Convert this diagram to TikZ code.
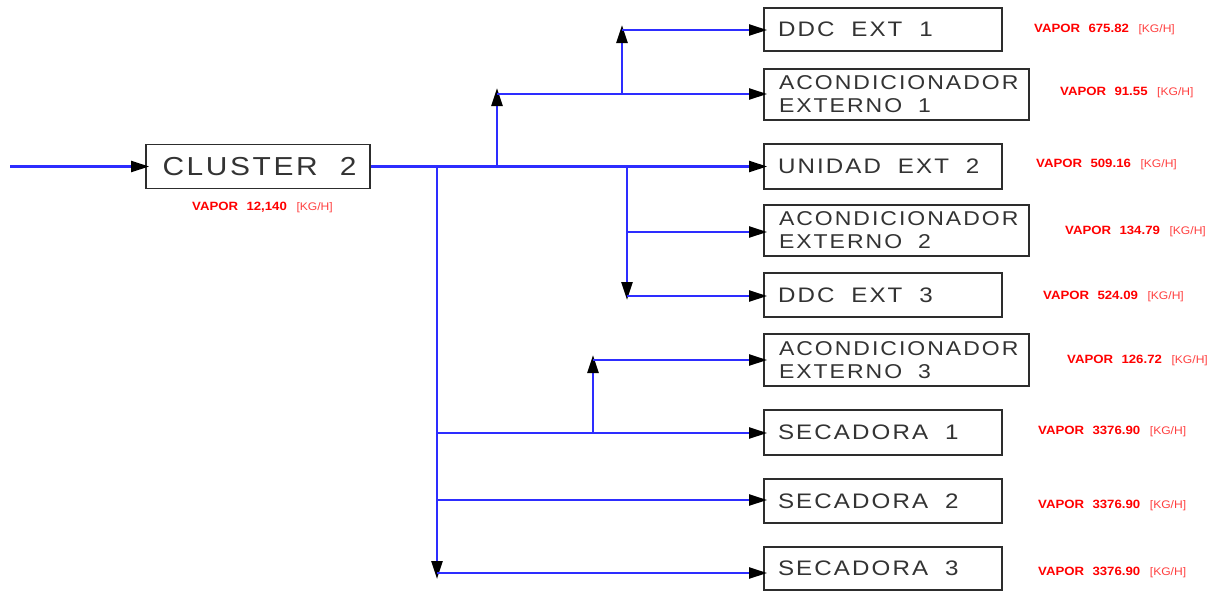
\documentclass[tikz,border=0pt]{standalone}
\usepackage{fontspec}
\setmainfont{Liberation Sans}
\newfontfamily\boxfont[FakeStretch=1.15,LetterSpace=10]{Liberation Sans}
\newfontfamily\redfont[FakeStretch=1.1]{Liberation Sans}
\usetikzlibrary{arrows.meta}
\definecolor{pipe}{RGB}{45,45,255}
\definecolor{boxline}{RGB}{45,45,45}
\newcommand\wsp{\hspace{0.8em}}
\newcommand\rsp{\hspace{0.7em}}
\newcommand\vap[1]{{\bfseries VAPOR\rsp#1}\hspace{0.8em}{\fontsize{11}{12}\selectfont\color{red!75}[KG/H]}}
\begin{document}
\begin{tikzpicture}[x=1pt,y=-1pt,
  box/.style={draw=boxline,line width=1.8pt,rectangle,inner ysep=0pt,inner xsep=14pt,
    text=black!80,align=left,font=\boxfont\fontsize{21}{23}\selectfont},
  box2/.style={box,font=\boxfont\fontsize{20}{23}\selectfont,inner xsep=15pt},
  vlabel/.style={anchor=west,inner sep=0pt,text=red,font=\redfont\fontsize{12}{14}\selectfont},
  flow/.style={draw=pipe,line width=2.3pt},
  arr/.style={-{Triangle[length=18pt,width=11pt,color=black]}}
]
\fill[white] (0,0) rectangle (1219,592);
\useasboundingbox (0,0) rectangle (1219,592);

% boxes
\node[box,minimum height=44pt,minimum width=224pt,inner xsep=0pt,font=\boxfont\fontsize{26}{28}\selectfont] (cl) at (258,166.5) {\hspace{3pt}CLUSTER\hspace{0.85em}2};
\node[box,minimum height=43pt,text width=210pt] (d1) at (883,29.5) {DDC\wsp EXT\wsp 1};
\node[box2,minimum height=51pt,text width=235pt] (a1) at (896.5,94.5) {ACONDICIONADOR\\EXTERNO\wsp 1};
\node[box,minimum height=45pt,text width=210pt] (u2) at (883,166.5) {UNIDAD\wsp EXT\wsp 2};
\node[box2,minimum height=51pt,text width=235pt] (a2) at (896.5,230.5) {ACONDICIONADOR\\EXTERNO\wsp 2};
\node[box,minimum height=44pt,text width=210pt] (d3) at (883,295) {DDC\wsp EXT\wsp 3};
\node[box2,minimum height=52pt,text width=235pt] (a3) at (896.5,360) {ACONDICIONADOR\\EXTERNO\wsp 3};
\node[box,minimum height=45pt,text width=210pt] (s1) at (883,432.5) {SECADORA\wsp 1};
\node[box,minimum height=44pt,text width=210pt] (s2) at (883,501) {SECADORA\wsp 2};
\node[box,minimum height=43pt,text width=210pt] (s3) at (883,568.5) {SECADORA\wsp 3};

% labels
\node[vlabel] (lcl) at (192,207) {\vap{12,140}};
\node[vlabel] (ld1) at (1034,29) {\vap{675.82}};
\node[vlabel] (la1) at (1060,92) {\vap{91.55}};
\node[vlabel] (lu2) at (1036,164) {\vap{509.16}};
\node[vlabel] (la2) at (1065,231) {\vap{134.79}};
\node[vlabel] (ld3) at (1043,296) {\vap{524.09}};
\node[vlabel] (la3) at (1067,360) {\vap{126.72}};
\node[vlabel] (ls1) at (1038,431) {\vap{3376.90}};
\node[vlabel] (ls2) at (1038,505) {\vap{3376.90}};
\node[vlabel] (ls3) at (1038,572) {\vap{3376.90}};

% junction coordinates
\coordinate (src) at (10,166.5);
\coordinate (ja) at (497,166.5);
\coordinate (jb) at (497,94);
\coordinate (jc) at (622,94);
\coordinate (jd) at (622,30);
\coordinate (je) at (627,166.5);
\coordinate (jf) at (627,232);
\coordinate (jg) at (627,296);
\coordinate (jh) at (437,166.5);
\coordinate (ji) at (437,433);
\coordinate (jj) at (437,500);
\coordinate (jk) at (437,573);
\coordinate (jl) at (593,433);
\coordinate (jm) at (593,360);

% connectors
\draw[flow,arr,shorten >=-4pt] (src) -- (cl.west);
\draw[flow,arr,shorten >=-4pt] (cl.east) -- (u2.west);
\draw[flow,arr,shorten >=-6pt] (ja) -- (jb);
\draw[flow,arr,shorten >=-4pt] (jb) -- (jb -| a1.west);
\draw[flow,arr,shorten >=-5pt] (jc) -- (jd);
\draw[flow,arr,shorten >=-4pt] (jd) -- (jd -| d1.west);
\draw[flow,arr,shorten >=-4pt] (je) -- (jg);
\draw[flow,arr,shorten >=-4pt] (jf) -- (jf -| a2.west);
\draw[flow,arr,shorten >=-4pt] (jg) -- (jg -| d3.west);
\draw[flow,arr,shorten >=-6pt] (jh) -- (jk);
\draw[flow,arr,shorten >=-4pt] (ji) -- (ji -| s1.west);
\draw[flow,arr,shorten >=-4pt] (jj) -- (jj -| s2.west);
\draw[flow,arr,shorten >=-4pt] (jk) -- (jk -| s3.west);
\draw[flow,arr,shorten >=-5pt] (jl) -- (jm);
\draw[flow,arr,shorten >=-4pt] (jm) -- (jm -| a3.west);
\end{tikzpicture}
\end{document}
